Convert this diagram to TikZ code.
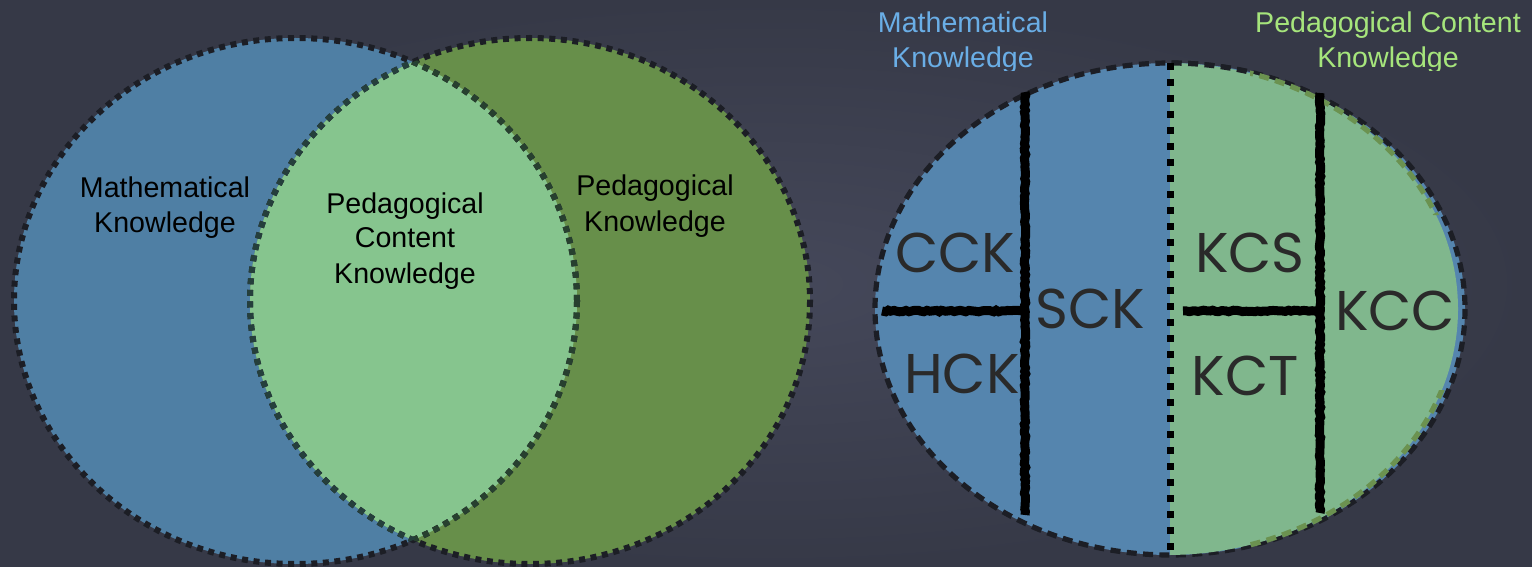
\documentclass[tikz,border=0pt]{standalone}
\usepackage{fontspec}
\setmainfont{Liberation Sans}
\newfontfamily\chalkfont{Poppins}
\usepackage{tikz}
\usetikzlibrary{positioning,decorations.pathmorphing}
\definecolor{boardin}{HTML}{45485A}
\definecolor{boardout}{HTML}{363947}
\definecolor{mathblue}{HTML}{4F7FA4}
\definecolor{pedgreen}{HTML}{678F4A}
\definecolor{pckgreen}{HTML}{86C58E}
\definecolor{rblue}{HTML}{5585AE}
\definecolor{rgreen}{HTML}{80B78D}
\definecolor{olive}{HTML}{6B9250}
\definecolor{dashdark}{HTML}{1C1E25}
\definecolor{lensblue}{HTML}{253F3C}
\definecolor{lensgreen}{HTML}{27402F}
\definecolor{titleblue}{HTML}{6AAEE6}
\definecolor{titlegreen}{HTML}{A6E57C}
\definecolor{chalkgray}{HTML}{2A2A2A}

\begin{document}
\begin{tikzpicture}[
    x=0.5pt, y=-0.5pt,
    label/.style={align=center, anchor=base, font=\fontsize{14.3}{17.5}\selectfont},
    title/.style={label},
    chalk/.style={anchor=base, text=chalkgray, font=\chalkfont\fontsize{28}{30}\selectfont},
    chalkline/.style={line width=4.5pt, draw=black, decorate, decoration={random steps, segment length=1.5pt, amplitude=0.4pt}},
    venn/.style={dash pattern=on 3pt off 2.8pt, line width=3pt},
    rim/.style={dash pattern=on 5pt off 3.2pt, line width=2.6pt},
    divider/.style={dash pattern=on 3.5pt off 4.5pt, line width=3.5pt, draw=black}
]
\shade[inner color=boardin, outer color=boardout] (0,0) rectangle (1532,567);
\useasboundingbox (0,0) rectangle (1532,567);
% left venn
\coordinate (mk) at (295.5,301);\coordinate (pk) at (530,301);
\fill[mathblue] (mk) ellipse [x radius=281.5, y radius=263];
\fill[pedgreen] (pk) ellipse [x radius=280, y radius=263];
\begin{scope}
  \clip (mk) ellipse [x radius=281.5, y radius=263];
  \fill[pckgreen] (pk) ellipse [x radius=280, y radius=263];
\end{scope}
\draw[venn, dashdark] (mk) ellipse [x radius=281.5, y radius=263];
\draw[venn, dashdark] (pk) ellipse [x radius=280, y radius=263];
\begin{scope}
  \clip (pk) ellipse [x radius=280, y radius=263];
  \draw[venn, lensgreen] (mk) ellipse [x radius=281.5, y radius=263];
\end{scope}
\begin{scope}
  \clip (mk) ellipse [x radius=281.5, y radius=263];
  \draw[venn, lensblue] (pk) ellipse [x radius=280, y radius=263];
\end{scope}
\node[label] (mathlbl) at (165,233) {Mathematical\\Knowledge};
\node[label] (pcklbl) at (405,283) {Pedagogical\\Content\\Knowledge};
\node[label] (pedlbl) at (655,231) {Pedagogical\\Knowledge};
% right oval
\coordinate (mkt) at (1170,309);\coordinate (pkt) at (1167,309);
\fill[rblue] (mkt) ellipse [x radius=295, y radius=246];
\draw[rim, dashdark] (mkt) ellipse [x radius=295, y radius=246];
\begin{scope}
  \clip (1170,0) rectangle (1532,567);
  \fill[rgreen] (pkt) ellipse [x radius=291, y radius=246];
\end{scope}
\begin{scope}
  \clip (1250,0) rectangle (1532,215) (1250,390) rectangle (1532,567);
  \draw[rim, olive] (pkt) ellipse [x radius=291, y radius=246];
\end{scope}
\begin{scope}
  \clip (1170,0) rectangle (1250,120);
  \draw[rim, dashdark] (mkt) ellipse [x radius=295, y radius=246];
\end{scope}
\coordinate (divtop) at (1170,63);\coordinate (divbot) at (1170,555);
\draw[divider] (divtop) -- (divbot);
\coordinate (ltop) at (1025,92);\coordinate (lbot) at (1025,515);
\coordinate (lleft) at (882,311);\coordinate (lmid) at (1025,311);
\coordinate (rtop) at (1320,93);\coordinate (rbot) at (1320,513);
\coordinate (rleft) at (1183,311);\coordinate (rmid) at (1320,311);
\draw[chalkline] (ltop) -- (lbot);\draw[chalkline] (lleft) -- (lmid);
\draw[chalkline] (rtop) -- (rbot);\draw[chalkline] (rleft) -- (rmid);
\node[chalk] (cck) at (955,272) {CCK};\node[chalk] (hck) at (962,393) {HCK};
\node[chalk] (sck) at (1090,328) {SCK};
\node[chalk] (kcs) at (1250,272) {KCS};\node[chalk] (kct) at (1245,395) {KCT};
\node[chalk] (kcc) at (1395,330) {KCC};
\begin{scope}
  \clip (850,0) rectangle (1532,71);
  \node[title, text=titleblue] (mktitle) at (963,68) {Mathematical\\Knowledge};
  \node[title, text=titlegreen] (pcktitle) at (1388,68) {Pedagogical Content\\Knowledge};
\end{scope}
\end{tikzpicture}
\end{document}
